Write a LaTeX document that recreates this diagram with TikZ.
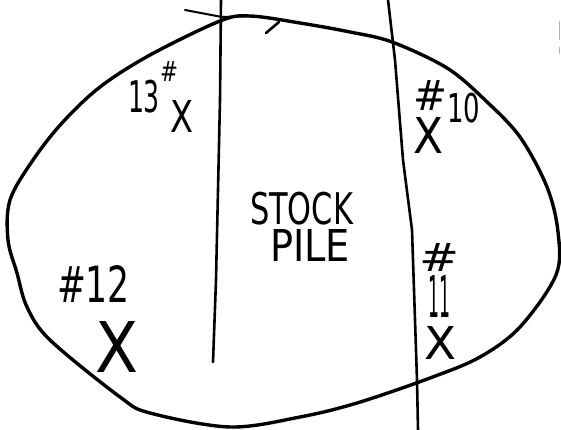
\documentclass[tikz,border=0pt]{standalone}
\usepackage{fontspec}
\newfontfamily\handfont{DejaVu Sans}
\tikzset{
  pen/.style={line width=3.4pt, line cap=round, line join=round},
  thinpen/.style={line width=2.6pt, line cap=round, line join=round},
  lbl/.style={inner sep=0pt, outer sep=0pt, font=\handfont},
}
\newcommand{\fitbox}[3]{\resizebox*{#1}{#2}{#3}}
\begin{document}
\begin{tikzpicture}[x=1pt,y=-1pt]
\useasboundingbox (0,0) rectangle (561,430);
\fill[white] (0,0) rectangle (561,430);
% oval
\draw[pen] plot[smooth cycle, tension=0.55] coordinates {
 (220,21) (250,16) (300,23) (350,32) (392,42) (447,68) (485,100) (520,137)
 (547,187) (558,232) (556,275) (520,327) (480,357) (430,378) (357,403)
 (300,417) (230,427) (150,413) (120,397) (50,340) (27,307) (17,273)
 (8,240) (10,200) (33,160) (62,123) (100,87) (150,55)};
% arrow tail and barb
\coordinate (tail) at (185,10);
\coordinate (join) at (222,17);
\coordinate (tip) at (279,22);
\coordinate (barb) at (266,33);
\draw[line width=2pt, line cap=round] (tail) -- (join) -- (250,16);
\draw[thinpen] (tip) -- (barb);
% vertical lines
\draw[thinpen] (221,0) -- (220,100) -- (216,280) -- (213,362);
\draw[thinpen] (388,0) -- (395,60) -- (403,160) -- (412,230) -- (417,380) -- (418,430);
% scanner mark
\draw[gray!60, line width=1.5pt] (559.5,21) -- (559.5,40) (559.5,47) -- (559.5,54);
% labels
\node[lbl, anchor=base west] (l13) at (128,113)
  {\fitbox{32pt}{33pt}{13}\raisebox{31pt}{\fitbox{18pt}{20pt}{\#}}};
\node[lbl] (x13) at (182,116) {\fitbox{23pt}{32pt}{X}};
\node[lbl, anchor=base west] (l10) at (413,123)
  {\raisebox{13pt}{\fitbox{34pt}{30pt}{\#}}\fitbox{33pt}{30pt}{10}};
\node[lbl] (x10) at (428,135) {\fitbox{30pt}{36pt}{X}};
\node[lbl, anchor=north west, align=left] (pile) at (250,192)
  {\fitbox{103pt}{33pt}{STOCK}\\[3pt]\hspace*{20pt}\fitbox{80pt}{32pt}{PILE}};
\node[lbl, anchor=base west] (l12) at (57,302) {\fitbox{73pt}{37pt}{\#12}};
\node[lbl] (x12) at (117,347) {\fitbox{43pt}{51pt}{X}};
\node[lbl, anchor=north, align=center] (l11) at (439,243)
  {\fitbox{40pt}{28pt}{\#}\\[3pt]\fitbox{22pt}{42pt}{11}};
\node[lbl] (x11) at (440,343) {\fitbox{32pt}{33pt}{X}};
\end{tikzpicture}
\end{document}
